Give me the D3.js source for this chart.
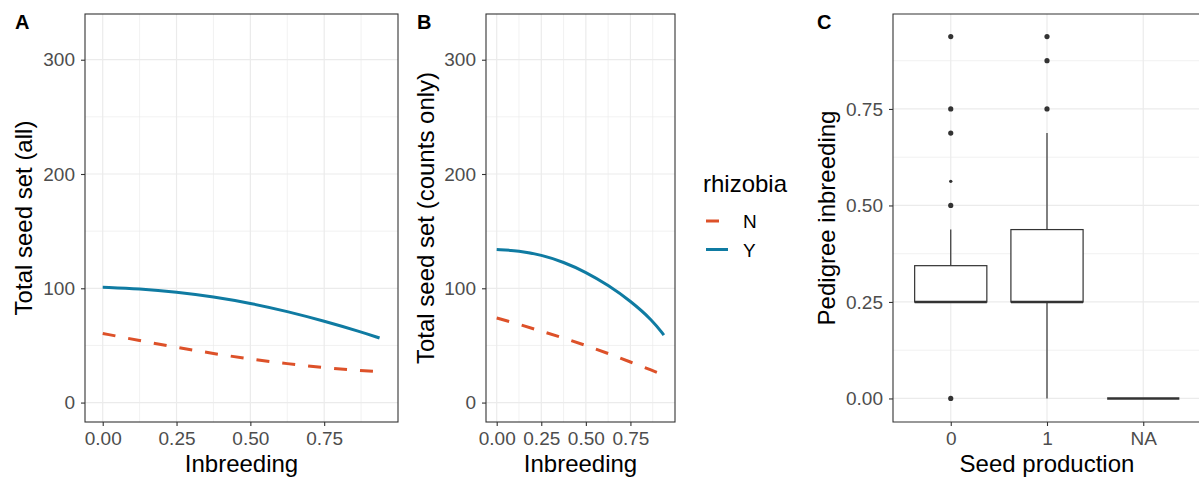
<!DOCTYPE html>
<meta charset="utf-8">
<style>
body { margin: 0; background: #fff; }
svg { font-family: "Liberation Sans", Arial, Helvetica, sans-serif; }
.grid-major { stroke: #ebebeb; stroke-width: 1.2; }
.grid-minor { stroke: #ebebeb; stroke-width: 0.7; }
.axis-title { fill: #000; font-size: 24px; }
.tag { fill: #000; font-size: 20px; font-weight: bold; }
</style>
<body>
<script src="https://d3js.org/d3.v7.min.js"></script>
<script>

// ---- data: fitted seed set vs inbreeding (panels A, B) ----
var inbreeding = [0, 0.125, 0.25, 0.375, 0.5, 0.625, 0.75, 0.875, 0.9375];
var rhizobia = ["N", "Y"];
var allN = [60.5, 54.2, 48.3, 42.9, 38, 34, 30.5, 28, 27];
var allY = [101, 99.6, 96.8, 92.6, 87, 79.8, 71.3, 61.8, 56.5];
var countsN = [74, 68.5, 62.5, 56.5, 50, 43, 35.5, 28, 24];
var countsY = [134, 132.8, 129.2, 123, 114.2, 102.8, 89, 71.8, 59];
var xTicks = [0, 0.25, 0.5, 0.75];
var xMinor = [0.125, 0.375, 0.625, 0.875];
var xTickLabels = ["0.00", "0.25", "0.50", "0.75"];
var yTicks = [0, 100, 200, 300];
var yMinor = [50, 150, 250];

// ---- data: pedigree inbreeding by seed production (panel C) ----
var seedCats = ["0", "1", "NA"];
var whiskerLow = [0.25, 0, 0];
var boxQ1 = [0.25, 0.25, 0];
var boxMedian = [0.25, 0.25, 0];
var boxQ3 = [0.344, 0.4375, 0];
var whiskerHigh = [0.4375, 0.6875, 0];
var outlierValues = [[0.9375, 0.75, 0.6875, 0.5625, 0.5, 0], [0.9375, 0.875, 0.75], []];
var outlierCounts = [[2, 2, 2, 1, 3, 2], [3, 2, 3], []];
var inbTicks = [0, 0.25, 0.5, 0.75];
var inbMinor = [0.125, 0.375, 0.625, 0.875];
var inbTickLabels = ["0.00", "0.25", "0.50", "0.75"];

var colors = { N: "#dd5129", Y: "#0f7ba2" };
var plotTop = 14, plotBottom = 422;

var svg = d3.select("body").append("svg")
  .attr("width", 1199)
  .attr("height", 479);

// style the d3 axis groups like ggplot theme_bw
function styleAxis(g) {
  g.select(".domain").remove();
  g.selectAll(".tick line").attr("stroke", "#333333").attr("stroke-width", 1.1);
  g.selectAll(".tick text")
    .attr("fill", "#4d4d4d")
    .style("font-size", "19px")
    .style("font-family", "'Liberation Sans', Arial, sans-serif");
}

function linePanel(left, right, tag, tagX, yTitle, yTitleX, nVals, yVals) {
  var x = d3.scaleLinear().domain([-0.06, 1.0]).range([left, right]);
  var y = d3.scaleLinear().domain([-17, 340]).range([plotBottom, plotTop]);
  var g = svg.append("g");

  // grid
  g.selectAll(".vmin").data(xMinor).enter().append("line")
    .attr("class", "grid-minor")
    .attr("x1", d => x(d)).attr("x2", d => x(d)).attr("y1", plotTop).attr("y2", plotBottom);
  g.selectAll(".hmin").data(yMinor).enter().append("line")
    .attr("class", "grid-minor")
    .attr("x1", left).attr("x2", right).attr("y1", d => y(d)).attr("y2", d => y(d));
  g.selectAll(".vmaj").data(xTicks).enter().append("line")
    .attr("class", "grid-major")
    .attr("x1", d => x(d)).attr("x2", d => x(d)).attr("y1", plotTop).attr("y2", plotBottom);
  g.selectAll(".hmaj").data(yTicks).enter().append("line")
    .attr("class", "grid-major")
    .attr("x1", left).attr("x2", right).attr("y1", d => y(d)).attr("y2", d => y(d));

  // curves (smoothed through the read-off points)
  var line = d3.line()
    .x(d => x(d[0]))
    .y(d => y(d[1]))
    .curve(d3.curveBasis);
  var series = [
    { key: "N", values: d3.zip(inbreeding, nVals) },
    { key: "Y", values: d3.zip(inbreeding, yVals) }
  ];
  g.selectAll(".fit").data(series).enter().append("path")
    .attr("fill", "none")
    .attr("stroke", d => colors[d.key])
    .attr("stroke-width", 3)
    .attr("stroke-dasharray", d => d.key == "N" ? "13,13" : null)
    .attr("d", d => line(d.values));

  // border
  g.append("rect")
    .attr("x", left).attr("y", plotTop)
    .attr("width", right - left).attr("height", plotBottom - plotTop)
    .attr("fill", "none").attr("stroke", "#333333").attr("stroke-width", 1.1);

  // axes
  g.append("g")
    .attr("transform", "translate(0," + plotBottom + ")")
    .call(d3.axisBottom(x).tickValues(xTicks).tickSize(4).tickPadding(6)
      .tickFormat((d, i) => xTickLabels[i]))
    .call(styleAxis);
  g.append("g")
    .attr("transform", "translate(" + left + ",0)")
    .call(d3.axisLeft(y).tickValues(yTicks).tickSize(4).tickPadding(6))
    .call(styleAxis);

  // titles
  g.append("text").attr("class", "axis-title")
    .attr("x", (left + right) / 2).attr("y", 472)
    .attr("text-anchor", "middle").text("Inbreeding");
  g.append("text").attr("class", "axis-title")
    .attr("transform", "translate(" + yTitleX + "," + (plotTop + plotBottom) / 2 + ") rotate(-90)")
    .attr("text-anchor", "middle").text(yTitle);
  g.append("text").attr("class", "tag")
    .attr("x", tagX).attr("y", 29).text(tag);
}

linePanel(85, 398, "A", 15, "Total seed set (all)", 32, allN, allY);
linePanel(486, 675, "B", 417, "Total seed set (counts only)", 434, countsN, countsY);

// legend
var legend = svg.append("g");
legend.append("text").attr("class", "axis-title")
  .attr("x", 703).attr("y", 192).text("rhizobia");
rhizobia.forEach(function(k, i) {
  var ly = 221 + i * 28.5;
  legend.append("line")
    .attr("x1", 706).attr("x2", 728).attr("y1", ly).attr("y2", ly)
    .attr("stroke", colors[k]).attr("stroke-width", 3)
    .attr("stroke-dasharray", k == "N" ? "13,13" : null);
  legend.append("text")
    .attr("x", 743).attr("y", ly + 7)
    .style("font-size", "19px").attr("fill", "#000").text(k);
});

// ---- panel C: boxplot ----
(function() {
  var left = 893, right = 1201;
  var x = d3.scalePoint().domain(seedCats).range([left, right]).padding(0.6);
  var y = d3.scaleLinear().domain([-0.061, 0.996]).range([plotBottom, plotTop]);
  var bw = x.step() * 0.75;
  var g = svg.append("g");

  g.selectAll(".hmin").data(inbMinor).enter().append("line")
    .attr("class", "grid-minor")
    .attr("x1", left).attr("x2", right).attr("y1", d => y(d)).attr("y2", d => y(d));
  g.selectAll(".hmaj").data(inbTicks).enter().append("line")
    .attr("class", "grid-major")
    .attr("x1", left).attr("x2", right).attr("y1", d => y(d)).attr("y2", d => y(d));
  g.selectAll(".vmaj").data(seedCats).enter().append("line")
    .attr("class", "grid-major")
    .attr("x1", d => x(d)).attr("x2", d => x(d)).attr("y1", plotTop).attr("y2", plotBottom);

  var boxes = seedCats.map(function(c, i) {
    return { cat: c, lo: whiskerLow[i], q1: boxQ1[i], med: boxMedian[i], q3: boxQ3[i], hi: whiskerHigh[i] };
  });

  var b = g.selectAll(".box").data(boxes).enter().append("g");
  b.append("line")
    .attr("x1", d => x(d.cat)).attr("x2", d => x(d.cat))
    .attr("y1", d => y(d.q3)).attr("y2", d => y(d.hi))
    .attr("stroke", "#333333").attr("stroke-width", 1.2);
  b.append("line")
    .attr("x1", d => x(d.cat)).attr("x2", d => x(d.cat))
    .attr("y1", d => y(d.q1)).attr("y2", d => y(d.lo))
    .attr("stroke", "#333333").attr("stroke-width", 1.2);
  b.append("rect")
    .attr("x", d => x(d.cat) - bw / 2).attr("width", bw)
    .attr("y", d => y(d.q3)).attr("height", d => y(d.q1) - y(d.q3))
    .attr("fill", "#fff").attr("stroke", "#333333").attr("stroke-width", 1.2);
  b.append("line")
    .attr("x1", d => x(d.cat) - bw / 2).attr("x2", d => x(d.cat) + bw / 2)
    .attr("y1", d => y(d.med)).attr("y2", d => y(d.med))
    .attr("stroke", "#333333").attr("stroke-width", 2.6);

  // outliers
  seedCats.forEach(function(c, i) {
    g.selectAll(".out" + i).data(d3.zip(outlierValues[i], outlierCounts[i])).enter()
      .append("circle")
      .attr("cx", x(c)).attr("cy", d => y(d[0]))
      .attr("r", d => d[1] > 1 ? 2.6 : 1.7)
      .attr("fill", "#333333");
  });

  g.append("path")
    .attr("d", "M" + right + "," + plotTop + "H" + left + "V" + plotBottom + "H" + right)
    .attr("fill", "none").attr("stroke", "#333333").attr("stroke-width", 1.1);

  g.append("g")
    .attr("transform", "translate(0," + plotBottom + ")")
    .call(d3.axisBottom(x).tickSize(4).tickPadding(6))
    .call(styleAxis);
  g.append("g")
    .attr("transform", "translate(" + left + ",0)")
    .call(d3.axisLeft(y).tickValues(inbTicks).tickSize(4).tickPadding(6)
      .tickFormat((d, i) => inbTickLabels[i]))
    .call(styleAxis);

  g.append("text").attr("class", "axis-title")
    .attr("x", (left + right) / 2).attr("y", 472)
    .attr("text-anchor", "middle").text("Seed production");
  g.append("text").attr("class", "axis-title")
    .attr("transform", "translate(835," + (plotTop + plotBottom) / 2 + ") rotate(-90)")
    .attr("text-anchor", "middle").text("Pedigree inbreeding");
  g.append("text").attr("class", "tag")
    .attr("x", 817).attr("y", 29).text("C");
})();

</script>
</body>
